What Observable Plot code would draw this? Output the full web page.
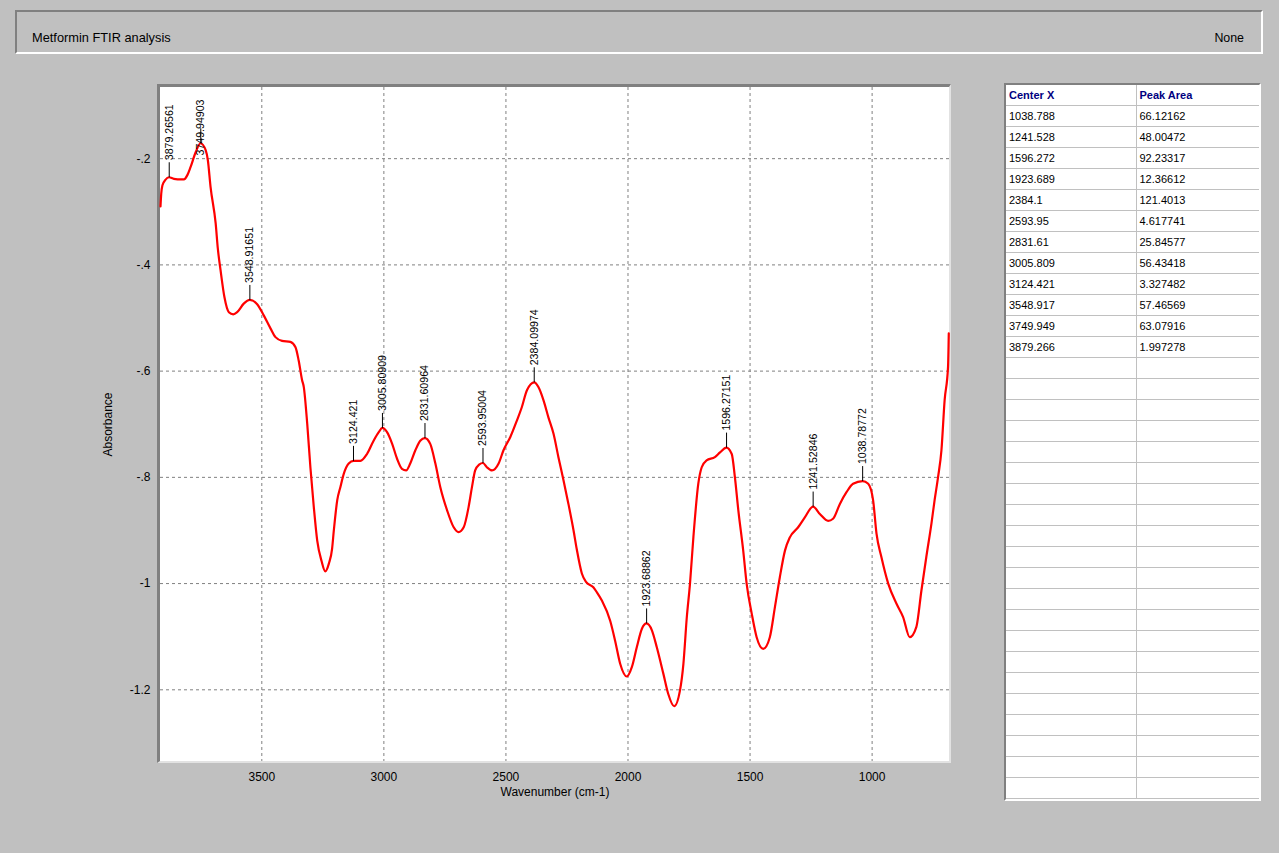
<!DOCTYPE html>
<html>
<head>
<meta charset="utf-8">
<script src="https://cdn.jsdelivr.net/npm/d3@7"></script>
<script src="https://cdn.jsdelivr.net/npm/@observablehq/plot@0.6"></script>
<style>
html, body { margin:0; padding:0; background:#c0c0c0; width:1279px; height:853px; overflow:hidden;
  font-family:"Liberation Sans", Arial, sans-serif; color:#000; }
#header { position:absolute; left:15px; top:10px; width:1248px; height:44px; box-sizing:border-box;
  border-top:2px solid #808080; border-left:2px solid #808080; border-bottom:2px solid #fff; border-right:2px solid #fff; }
#title, #none { position:absolute; top:20px; font-size:12.8px; line-height:12px; color:#000; white-space:nowrap; }
#title { left:15px; }
#none { right:17px; font-size:12.4px; }
#frame { position:absolute; left:157px; top:84px; width:794px; height:679px; box-sizing:border-box; background:#fff;
  border-top:3px solid #808080; border-left:3px solid #808080; border-right:2px solid #e2e2e2; border-bottom:2px solid #e2e2e2; }
#chart { position:absolute; left:0; top:0; }
#tablebox { position:absolute; left:1004px; top:83px; width:257px; height:718px; box-sizing:border-box; background:#fff;
  border-top:2px solid #808080; border-left:2px solid #808080; border-right:2px solid #fff; border-bottom:2px solid #fff; overflow:hidden; }
#peaktable { border-collapse:collapse; table-layout:fixed; width:253px; }
#peaktable td { height:20px; border:1px solid #c0c0c0; padding:0 0 0 3px; font-size:11px; line-height:12px; white-space:nowrap; overflow:hidden; }
#peaktable tr:first-child td { border-top:none; }
#peaktable td:first-child { border-left:none; }
#peaktable td.head { color:#000080; font-weight:bold; }
</style>
</head>
<body>
<div id="header"><span id="title"></span><span id="none"></span></div>
<div id="frame"></div>
<div id="chart"></div>
<div id="tablebox"><table id="peaktable"><colgroup><col style="width:130px"><col style="width:123px"></colgroup><tbody></tbody></table></div>
<script>
// ---- texts ----
const chartTitle = "Metformin FTIR analysis";
const cornerText = "None";
const xLabel = "Wavenumber (cm-1)";
const yLabel = "Absorbance";
const tableHeads = ["Center X", "Peak Area"];

// ---- axis ticks ----
const xTicks = [3500, 3000, 2500, 2000, 1500, 1000];
const yTicks = [-0.2, -0.4, -0.6, -0.8, -1, -1.2];

// ---- spectrum ----
const wavenumber = [3915,3912,3907,3895,3880,3860,3830,3819,3805,3792,3771,3751,3730,3721,3710,3689,3680,3669,3653,3635,3617,3601,3574,3549,3519,3492,3464,3444,3417,3383,3362,3349,3335,3328,3314,3301,3287,3273,3255,3240,3225,3212,3205,3191,3178,3164,3144,3124,3096,3069,3042,3021,3006,2987,2966,2946,2926,2909,2892,2871,2851,2832,2810,2789,2769,2741,2714,2694,2673,2653,2639,2626,2610,2594,2578,2557,2530,2510,2482,2455,2435,2414,2384,2367,2346,2326,2305,2285,2264,2244,2223,2210,2189,2172,2142,2128,2107,2073,2053,2032,2005,1984,1964,1943,1924,1902,1882,1855,1835,1811,1787,1773,1759,1746,1732,1712,1698,1678,1644,1623,1597,1575,1562,1548,1528,1514,1493,1473,1446,1419,1398,1378,1357,1337,1303,1275,1242,1214,1180,1160,1132,1105,1078,1039,1016,996,982,962,934,900,873,846,819,798,778,757,744,730,716,703,689,686];
const absorbance = [-0.290,-0.266,-0.250,-0.240,-0.235,-0.238,-0.239,-0.239,-0.231,-0.216,-0.188,-0.171,-0.184,-0.203,-0.253,-0.322,-0.370,-0.410,-0.461,-0.489,-0.493,-0.489,-0.473,-0.466,-0.474,-0.495,-0.520,-0.536,-0.543,-0.545,-0.555,-0.580,-0.617,-0.630,-0.699,-0.781,-0.856,-0.919,-0.958,-0.977,-0.962,-0.934,-0.900,-0.843,-0.818,-0.793,-0.774,-0.769,-0.769,-0.756,-0.731,-0.715,-0.707,-0.715,-0.737,-0.765,-0.784,-0.787,-0.774,-0.749,-0.731,-0.726,-0.737,-0.774,-0.818,-0.862,-0.894,-0.903,-0.894,-0.856,-0.818,-0.787,-0.776,-0.773,-0.781,-0.787,-0.774,-0.749,-0.724,-0.693,-0.668,-0.636,-0.621,-0.630,-0.655,-0.687,-0.718,-0.762,-0.806,-0.850,-0.900,-0.935,-0.981,-0.997,-1.007,-1.016,-1.032,-1.070,-1.107,-1.151,-1.175,-1.157,-1.120,-1.085,-1.075,-1.088,-1.120,-1.170,-1.208,-1.231,-1.201,-1.151,-1.063,-1.000,-0.912,-0.812,-0.781,-0.768,-0.762,-0.753,-0.744,-0.756,-0.800,-0.862,-0.938,-1.000,-1.057,-1.101,-1.123,-1.101,-1.044,-0.988,-0.938,-0.913,-0.894,-0.875,-0.855,-0.869,-0.882,-0.878,-0.850,-0.828,-0.812,-0.807,-0.812,-0.843,-0.906,-0.950,-1.000,-1.038,-1.063,-1.101,-1.082,-1.013,-0.950,-0.887,-0.843,-0.800,-0.749,-0.655,-0.592,-0.529];

// ---- peak annotations ----
const peakLabels = ["3879.26561","3749.94903","3548.91651","3124.421","3005.80909","2831.60964","2593.95004","2384.09974","1923.68862","1596.27151","1241.52846","1038.78772"];
const peakAbsorbance = [-0.235,-0.171,-0.466,-0.769,-0.707,-0.726,-0.773,-0.621,-1.075,-0.744,-0.855,-0.807];

// ---- table ----
const centerX = ["1038.788","1241.528","1596.272","1923.689","2384.1","2593.95","2831.61","3005.809","3124.421","3548.917","3749.949","3879.266"];
const peakArea = ["66.12162","48.00472","92.23317","12.36612","121.4013","4.617741","25.84577","56.43418","3.327482","57.46569","63.07916","1.997278"];
const tableRowCount = 33;

document.getElementById("title").textContent = chartTitle;
document.getElementById("none").textContent = cornerText;

const spectrum = wavenumber.map((w, i) => ({wn: w, abs: absorbance[i]}));
const peaks = peakLabels.map((t, i) => ({label: t, wn: +t, abs: peakAbsorbance[i]}));
const labelCeiling = -0.226; // keep labels inside the frame

const tickUp = {draw(context) { context.moveTo(0, 0); context.lineTo(0, -15); }};
const yFmt = d => String(d).replace("0.", ".");

const chart = Plot.plot({
  width: 1000,
  height: 853,
  marginLeft: 160,
  marginRight: 51,
  marginTop: 87,
  marginBottom: 92,
  style: {background: "transparent", fontFamily: "'Liberation Sans', Arial, sans-serif", fontSize: "12px", color: "#000", overflow: "visible"},
  x: {domain: [3915, 683], ticks: xTicks, tickFormat: d => String(d), tickSize: 0, tickPadding: 11, label: null},
  y: {domain: [-1.335, -0.066], ticks: yTicks, tickFormat: yFmt, tickSize: 0, tickPadding: 10, label: null},
  marks: [
    Plot.ruleX(xTicks, {stroke: "#808080", strokeOpacity: 1, strokeDasharray: "3,3"}),
    Plot.ruleY(yTicks, {stroke: "#808080", strokeOpacity: 1, strokeDasharray: "3,3"}),
    Plot.line(spectrum, {x: "wn", y: "abs", stroke: "#ff0000", strokeWidth: 2.2, curve: "monotone-x"}),
    Plot.dot(peaks, {x: "wn", y: "abs", symbol: tickUp, stroke: "#000", fill: "none", strokeWidth: 1}),
    Plot.text(peaks, {x: "wn", y: d => Math.min(d.abs, labelCeiling), text: "label", rotate: -90, textAnchor: "start", dy: -17, fontSize: 10.6, fill: "#000"}),
    Plot.text([xLabel], {frameAnchor: "bottom", text: d => d, dy: 34, fontSize: 12, fill: "#000"}),
    Plot.text([yLabel], {frameAnchor: "left", text: d => d, dx: -52, rotate: -90, textAnchor: "middle", fontSize: 12, fill: "#000"})
  ]
});
document.getElementById("chart").appendChild(chart);

// table
const tbody = document.querySelector("#peaktable tbody");
const addRow = (cells, cls) => {
  const tr = document.createElement("tr");
  cells.forEach(c => { const td = document.createElement("td"); td.textContent = c; if (cls) td.className = cls; tr.appendChild(td); });
  tbody.appendChild(tr);
};
addRow(tableHeads, "head");
for (let i = 0; i < tableRowCount; i++) {
  addRow(i < centerX.length ? [centerX[i], peakArea[i]] : ["", ""]);
}
</script>
</body>
</html>
